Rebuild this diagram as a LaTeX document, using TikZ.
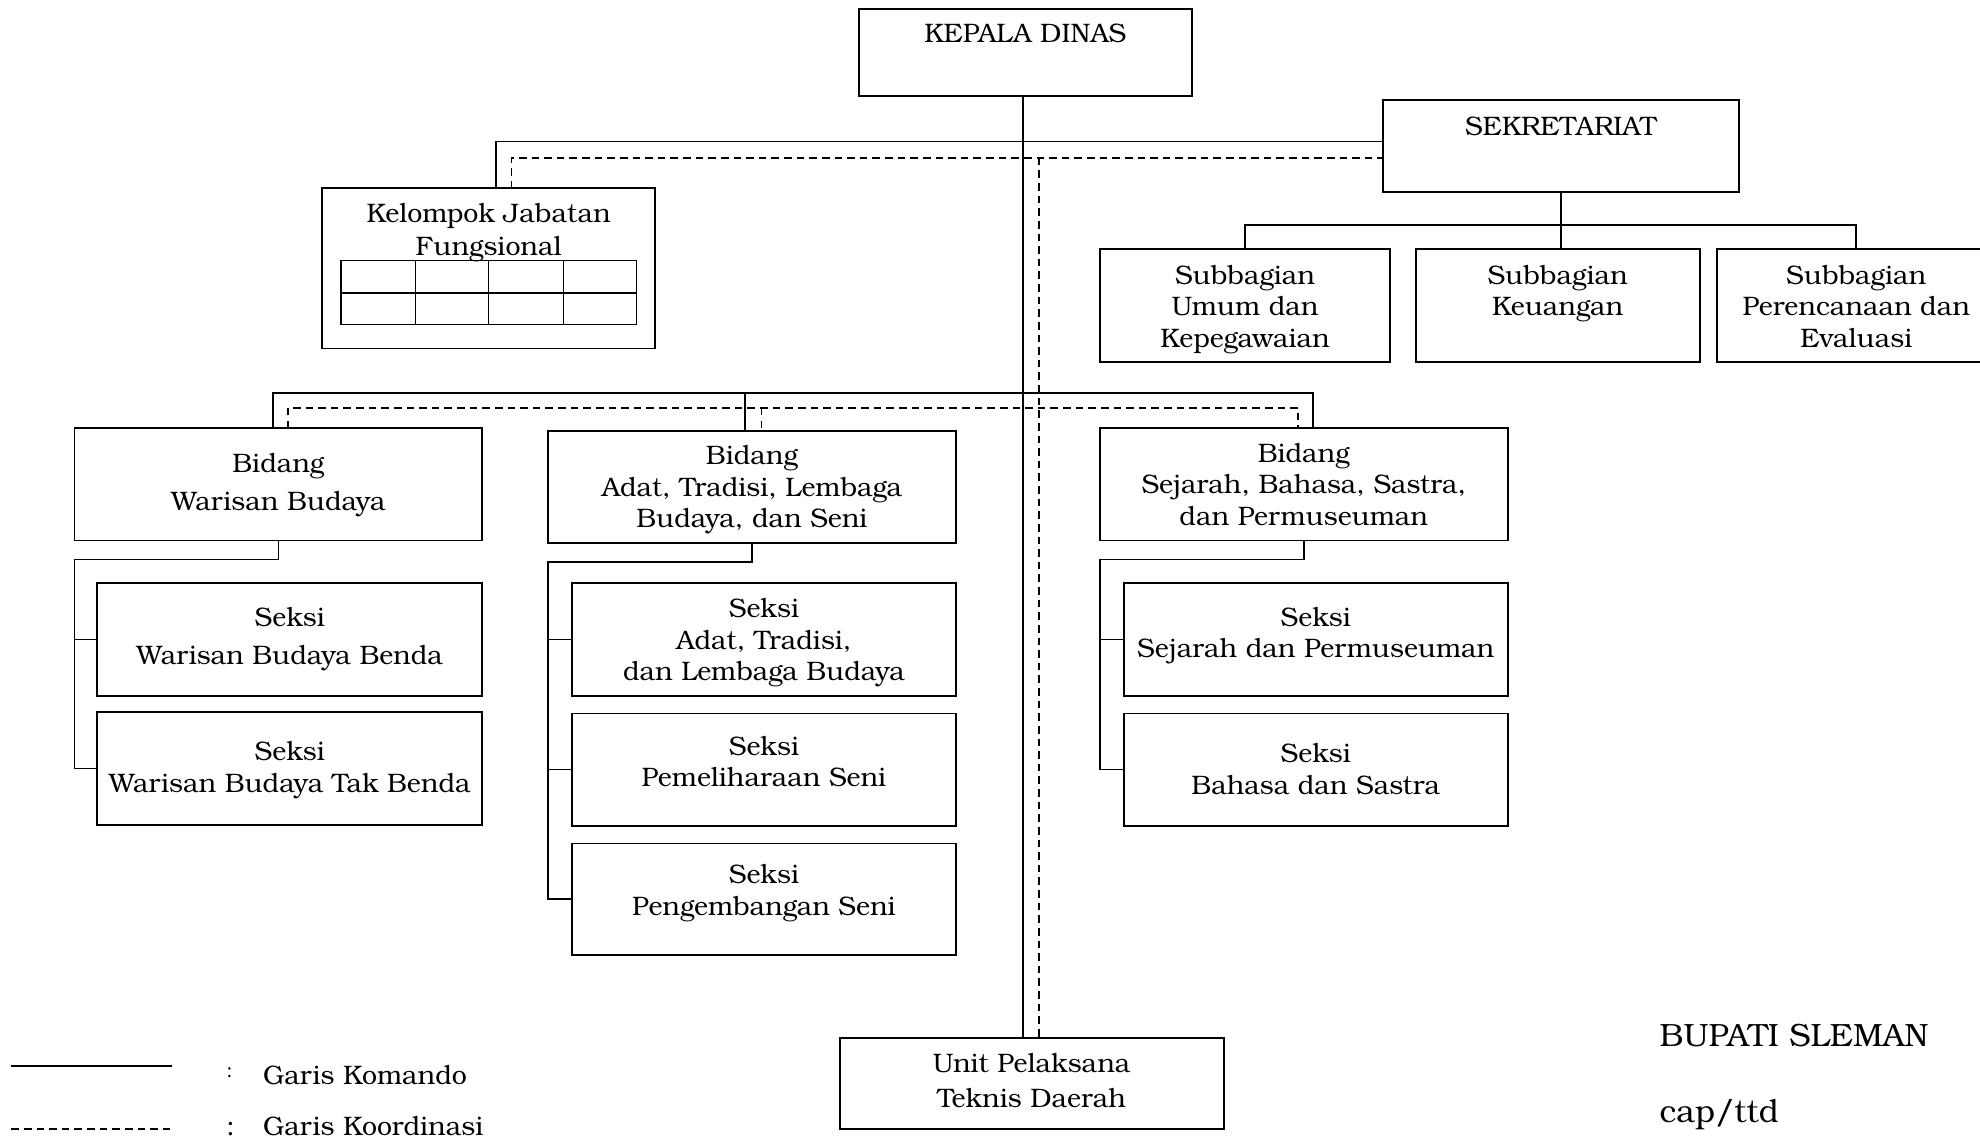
\documentclass[tikz,border=0pt]{standalone}
\usepackage{fontspec}
\setmainfont{texgyrebonum-regular.otf}
\newlength{\pxu}
\setlength{\pxu}{0.02cm}
\newcommand{\bxt}[4]{\parbox[c][#2\pxu][t]{#1\pxu}{\centering\rule{0pt}{#3\pxu}#4\par}}
\tikzset{
  box/.style={draw, line width=0.85pt, inner sep=0pt, outer sep=0pt, anchor=north west},
  cmd/.style={line width=0.75pt},
  crd/.style={line width=0.7pt, dash pattern=on 0.12cm off 0.08cm},
  lbl/.style={inner sep=0pt, anchor=base west},
}
\begin{document}
\fontsize{12.05pt}{14.2pt}\selectfont
\begin{tikzpicture}[x=0.02cm, y=-0.02cm]
\useasboundingbox (0,0) rectangle (1568,901.2);

% boxes
\node[box] (kd)   at (680,7)   {\bxt{264}{69}{27}{KEPALA DINAS}};
\node[box] (sek)  at (1095,79) {\bxt{282}{73}{28}{SEKRETARIAT}};
\node[box] (kjf)  at (255,149) {\bxt{264}{127}{27}{Kelompok Jabatan\\[1\pxu]Fungsional}};
\node[box] (sub1) at (871,197) {\bxt{230}{90}{28}{Subbagian\\Umum dan\\Kepegawaian}};
\node[box] (sub2) at (1121,197){\bxt{225}{90}{28}{Subbagian\\Keuangan}};
\node[box] (sub3) at (1360,197){\bxt{220}{90}{28}{Subbagian\\Perencanaan dan\\Evaluasi}};
\node[box] (b1)   at (59,339)  {\bxt{323}{89}{35}{Bidang\\[5\pxu]Warisan Budaya}};
\node[box] (b2)   at (434,341) {\bxt{323}{89}{27}{Bidang\\Adat, Tradisi, Lembaga\\Budaya, dan Seni}};
\node[box] (b3)   at (871,339) {\bxt{323}{89}{27}{Bidang\\Sejarah, Bahasa, Sastra,\\dan Permuseuman}};
\node[box] (s11)  at (77,462)  {\bxt{305}{89}{34}{Seksi\\[5\pxu]Warisan Budaya Benda}};
\node[box] (s12)  at (77,564)  {\bxt{305}{89}{38}{Seksi\\[1\pxu]Warisan Budaya Tak Benda}};
\node[box] (s21)  at (453,462) {\bxt{304}{89}{27}{Seksi\\Adat, Tradisi,\\dan Lembaga Budaya}};
\node[box] (s22)  at (453,565) {\bxt{304}{89}{33}{Seksi\\Pemeliharaan Seni}};
\node[box] (s23)  at (453,668) {\bxt{304}{88}{32}{Seksi\\Pengembangan Seni}};
\node[box] (s31)  at (890,462) {\bxt{304}{89}{34}{Seksi\\Sejarah dan Permuseuman}};
\node[box] (s32)  at (890,565) {\bxt{304}{89}{39}{Seksi\\Bahasa dan Sastra}};
\node[box] (uptd) at (665,822) {\bxt{304}{72}{27}{Unit Pelaksana\\[3\pxu]Teknis Daerah}};

% grid inside Kelompok Jabatan Fungsional
\draw[line width=0.55pt] (270,206) rectangle (504,257);
\draw[line width=0.55pt] (270,232) -- (504,232);
\foreach \gx in {329,387,446} \draw[line width=0.55pt] (\gx,206) -- (\gx,257);

% command lines
\draw[cmd] (kd.south -| 810,0) -- (uptd.north -| 810,0);
\draw[cmd] (kjf.north -| 393,0) |- (sek.west |- 0,112);
\draw[cmd] (sek.south) -- (sek.south |- sub2.north);
\draw[cmd] (sub1.north) -- ++(0,-19) -| (sub3.north);
\draw[cmd] (b1.north -| 216,0) -- (216,311) -- (1040,311) -- (b3.north -| 1040,0);
\draw[cmd] (590,311) -- (b2.north -| 590,0);

\draw[cmd] (b1.south) -- ++(0,15) -| (s12.west -| b1.west) -- (s12.west);
\draw[cmd] (s11.west -| b1.west) -- (s11.west);
\draw[cmd] (b2.south) -- ++(0,15) -| (s23.west -| b2.west) -- (s23.west);
\draw[cmd] (s21.west -| b2.west) -- (s21.west);
\draw[cmd] (s22.west -| b2.west) -- (s22.west);
\draw[cmd] (b3.south) -- ++(0,15) -| (s32.west -| b3.west) -- (s32.west);
\draw[cmd] (s31.west -| b3.west) -- (s31.west);

% coordination lines
\coordinate (dj) at (823,125);
\draw[crd] (kjf.north -| 405,0) |- (sek.west |- dj);
\draw[crd] (dj) -- (uptd.north -| dj);
\draw[crd] (b1.north -| 228,0) -- (228,323) -- (1028,323) -- (b3.north -| 1028,0);
\draw[crd] (603,323) -- (b2.north -| 603,0);

% legend
\draw[cmd] (9,844) -- (136,844);
\draw[crd] (9,894) -- (136,894);
\node[lbl] (c1) at (179,853) {\fontsize{9pt}{10pt}\selectfont :};
\node[lbl] (c2) at (179,899) {:};
\node[lbl] (l1) at (208,859) {Garis Komando};
\node[lbl] (l2) at (208,899) {Garis Koordinasi};

% signature
\node[lbl] (bup) at (1314,829) {\fontsize{14.5pt}{17pt}\selectfont BUPATI SLEMAN};
\node[lbl] (ttd) at (1314,889) {\fontsize{14.5pt}{17pt}\selectfont cap/ttd};
\end{tikzpicture}
\end{document}
